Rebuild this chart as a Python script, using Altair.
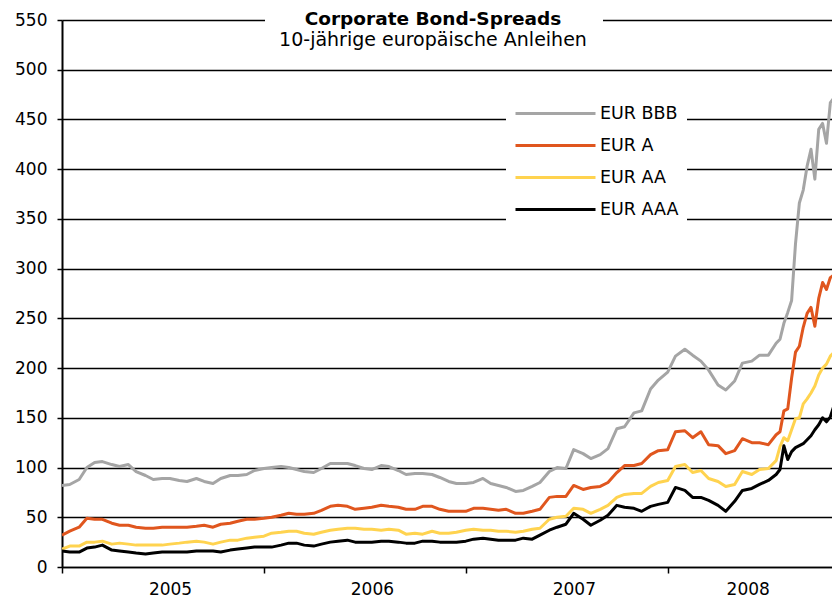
import altair as alt
import pandas as pd

FONT = "Verdana, DejaVu Sans"

series_names = ["EUR BBB", "EUR A", "EUR AA", "EUR AAA"]
series_colors = ["#A5A5A5", "#E0561E", "#FFD34F", "#000000"]
title_text = "Corporate Bond-Spreads"
subtitle_text = "10-jährige europäische Anleihen"
year_ticks = [2005, 2006, 2007, 2008]
y_ticks = list(range(0, 551, 50))

# observation dates: semi-monthly until mid-July 2008, weekly afterwards
semi_dates = pd.date_range("2005-01-01", "2008-07-15", freq="SMS")
week_dates = pd.date_range("2008-07-22", periods=16, freq="7D")
dates = [d.strftime("%Y-%m-%d") for d in list(semi_dates) + list(week_dates)]

eur_bbb = [
    82, 83, 88, 100, 105, 106, 103, 101, 103, 96,
    92, 88, 89, 89, 87, 86, 89, 86, 84, 89,
    92, 92, 93, 97, 99, 100, 101, 100, 98, 96,
    95, 99, 104, 104, 104, 102, 99, 98, 102, 101,
    97, 93, 94, 94, 93, 90, 86, 84, 84, 85,
    89, 84, 82, 80, 76, 77, 81, 85, 96, 100,
    99, 118, 114, 109, 113, 119, 139, 141, 155, 157,
    179, 188, 196, 212, 219, 213, 207, 198, 183, 178,
    187, 205, 207, 213, 213, 225,
    229, 245, 256, 268, 325, 366, 379, 403, 420, 390, 440, 446, 426, 467, 472, 477,
]
eur_a = [
    32, 36, 40, 49, 48, 48, 44, 42, 42, 40,
    39, 39, 40, 40, 40, 40, 41, 42, 40, 43,
    44, 46, 48, 48, 49, 50, 52, 54, 53, 53,
    54, 57, 61, 62, 61, 58, 59, 60, 62, 61,
    60, 58, 58, 61, 61, 58, 56, 56, 56, 59,
    59, 58, 57, 58, 54, 54, 56, 58, 70, 71,
    71, 82, 78, 80, 81, 85, 95, 102, 102, 104,
    113, 117, 118, 136, 137, 130, 136, 123, 122, 114,
    117, 129, 125, 125, 123, 133,
    136, 157, 159, 190, 216, 222, 241, 255, 261, 242, 270, 286, 279, 291, 294, 295,
]
eur_aa = [
    18, 21, 21, 25, 25, 26, 23, 24, 23, 22,
    22, 22, 22, 23, 24, 25, 26, 25, 23, 25,
    27, 27, 29, 30, 31, 34, 35, 36, 36, 34,
    33, 35, 37, 38, 39, 39, 38, 38, 37, 38,
    37, 33, 34, 33, 36, 34, 34, 35, 37, 38,
    37, 37, 36, 36, 35, 36, 38, 39, 48, 50,
    51, 59, 58, 54, 58, 62, 70, 73, 74, 74,
    81, 85, 87, 101, 103, 95, 97, 89, 86, 81,
    83, 96, 93, 98, 99, 107,
    121, 130, 127, 138, 149, 150, 164, 169, 175, 182, 193, 200, 204, 212, 216, 218,
]
eur_aaa = [
    16, 15, 15, 19, 20, 22, 17, 16, 15, 14,
    13, 14, 15, 15, 15, 15, 16, 16, 16, 15,
    17, 18, 19, 20, 20, 20, 22, 24, 24, 22,
    21, 23, 25, 26, 27, 25, 25, 25, 26, 26,
    25, 24, 24, 26, 26, 25, 25, 25, 26, 28,
    29, 28, 27, 27, 27, 29, 28, 32, 37, 40,
    43, 54, 48, 42, 47, 52, 62, 60, 59, 56,
    61, 63, 65, 80, 77, 70, 70, 67, 62, 56,
    66, 77, 79, 83, 87, 93,
    98, 122, 108, 116, 120, 122, 124, 128, 132, 138, 143, 150, 146, 151, 163, 168,
]

rows = []
for name, vals in zip(series_names, [eur_bbb, eur_a, eur_aa, eur_aaa]):
    for d, v in zip(dates, vals):
        rows.append({"date": d, "value": v, "series": name})
df = pd.DataFrame(rows)

x_axis = alt.Axis(
    values=[alt.DateTime(year=y, month=1, date=1) for y in year_ticks],
    format="%Y", title=None, grid=False,
    domain=True, domainColor="black", domainWidth=1.5,
    ticks=True, tickColor="black", tickWidth=1.5, tickSize=6,
    labelFont=FONT, labelFontSize=17, labelColor="black",
    labelPadding=8,
    labelOffset={"condition": {"test": "year(datum.value) == 2008", "value": 80}, "value": 108},
    labelFlush=False, labelOverlap=False, labelBound=False,
)
y_axis = alt.Axis(
    values=y_ticks, title=None, grid=True, gridColor="black", gridWidth=1.5, gridOpacity=1,
    domain=True, domainColor="black", domainWidth=2,
    ticks=True, tickColor="black", tickWidth=1.5, tickSize=5,
    labelFont=FONT, labelFontSize=17, labelColor="black", labelPadding=10,
)

lines = alt.Chart(df).mark_line(strokeWidth=3, strokeJoin="round", clip=True).encode(
    x=alt.X("date:T", axis=x_axis,
            scale=alt.Scale(domain=[alt.DateTime(year=2005, month=1, date=1),
                                    alt.DateTime(year=2008, month=10, date=24)])),
    y=alt.Y("value:Q", axis=y_axis, scale=alt.Scale(domain=[0, 550], nice=False, zero=True)),
    color=alt.Color(
        "series:N",
        scale=alt.Scale(domain=series_names, range=series_colors),
        legend=alt.Legend(
            title=None, orient="none", legendX=444, legendY=77,
            symbolType="stroke", symbolSize=6400, symbolStrokeWidth=3,
            labelFont=FONT, labelFontSize=17.5, labelColor="black", labelOffset=3,
            fillColor="white", padding=8, rowPadding=14, clipHeight=17,
            direction="vertical",
        ),
    ),
)

title_df = pd.DataFrame({"title": [title_text], "subtitle": [subtitle_text]})
title_box = alt.Chart(title_df).mark_rect(color="white").encode(
    x=alt.value(203), x2=alt.value(541), y=alt.value(-12), y2=alt.value(7)
)
title_mark = alt.Chart(title_df).mark_text(
    font=FONT, fontSize=18.5, fontWeight="bold", color="black", align="center", baseline="middle"
).encode(x=alt.value(371), y=alt.value(-1), text="title:N")
subtitle_mark = alt.Chart(title_df).mark_text(
    font=FONT, fontSize=19, color="black", align="center", baseline="middle"
).encode(x=alt.value(371), y=alt.value(20), text="subtitle:N")

chart = alt.layer(title_box, lines, title_mark, subtitle_mark).properties(
    width=770, height=547,
    autosize=alt.AutoSizeParams(type="none"),
    padding={"left": 54, "top": 12, "right": 0, "bottom": 33},
).configure_view(stroke=None).configure(background="white")

chart.save("out.html", embed_options={"renderer": "svg", "actions": False})
